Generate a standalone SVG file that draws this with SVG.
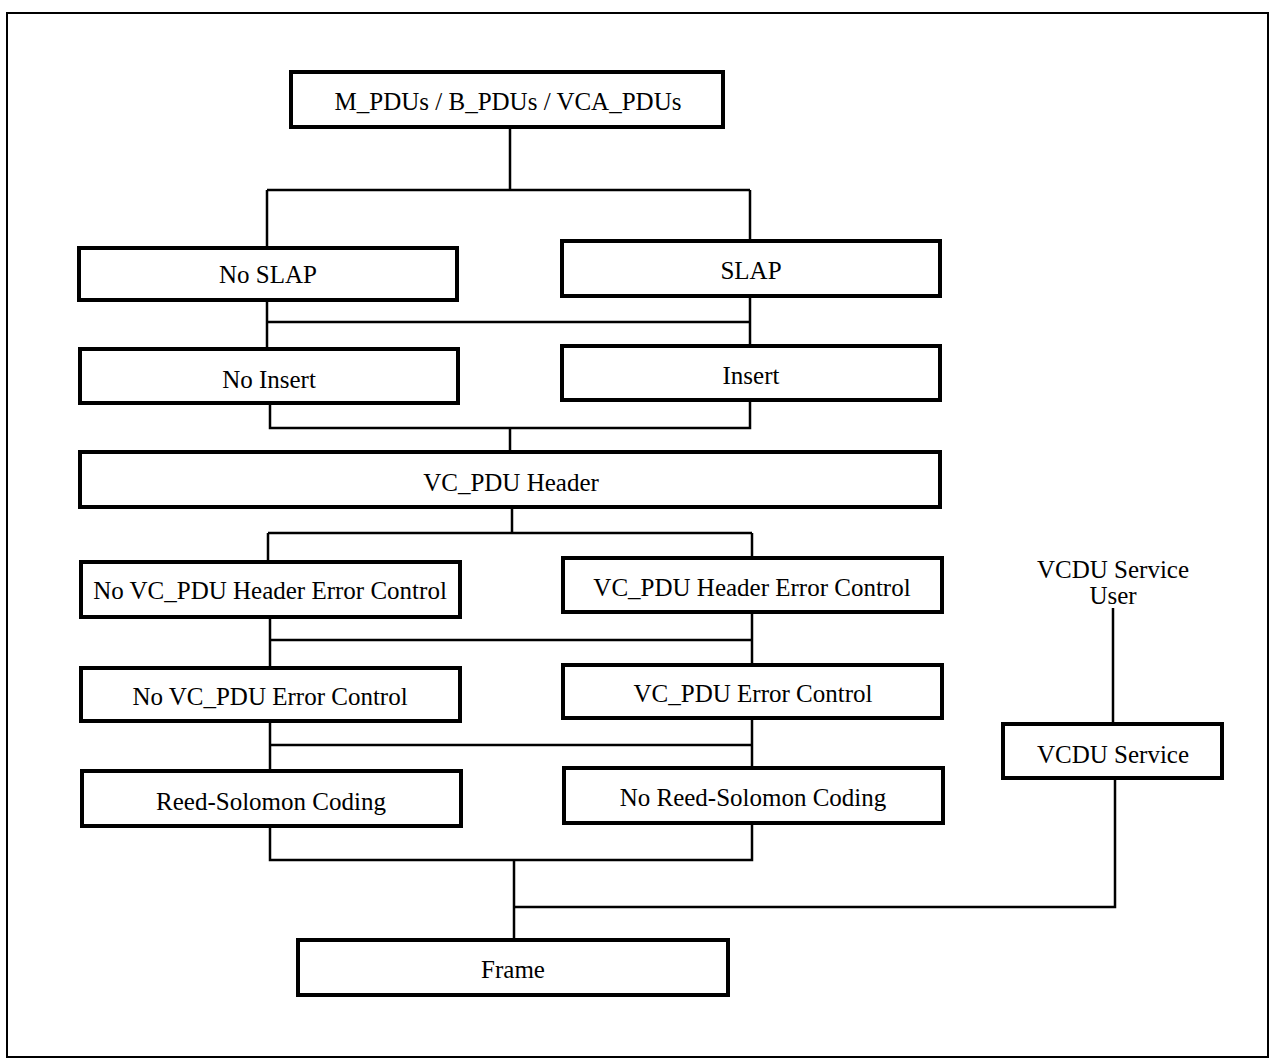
<svg xmlns="http://www.w3.org/2000/svg" width="1273" height="1060" viewBox="0 0 1273 1060">
<style>
.box{fill:#fff;stroke:#000;stroke-width:4}
.t{font-family:"Liberation Serif","Times New Roman",serif;font-size:25px;fill:#000;text-anchor:middle;dominant-baseline:central}
.c{fill:none;stroke:#000;stroke-width:2.5}
</style>
<rect x="0" y="0" width="1273" height="1060" fill="#fff"/>
<rect x="7" y="13" width="1261" height="1044" fill="none" stroke="#000" stroke-width="2"/>
<g id="connectors" class="c">
<path d="M510 127V190M267 190H750M267 190V248M750 190V241"/>
<path d="M267 300V349M267 322H750M750 296V346"/>
<path d="M270 403V428H750V400M510 428V452"/>
<path d="M512 507V533M268 533H752M268 533V562M752 533V558"/>
<path d="M270 617V668M270 640H752M752 612V665"/>
<path d="M270 721V771M270 745H752M752 718V768"/>
<path d="M270 826V860H752V823M514 860V940M514 907H1115V778"/>
<path d="M1113 724V608"/>
</g>
<g id="n_pdus"><rect class="box" x="291" y="72" width="432" height="55"/><text class="t" x="508" y="101">M_PDUs / B_PDUs / VCA_PDUs</text></g>
<g id="n_noslap"><rect class="box" x="79" y="248" width="378" height="52"/><text class="t" x="268" y="274">No SLAP</text></g>
<g id="n_slap"><rect class="box" x="562" y="241" width="378" height="55"/><text class="t" x="751" y="270">SLAP</text></g>
<g id="n_noinsert"><rect class="box" x="80" y="349" width="378" height="54"/><text class="t" x="269" y="379">No Insert</text></g>
<g id="n_insert"><rect class="box" x="562" y="346" width="378" height="54"/><text class="t" x="751" y="375">Insert</text></g>
<g id="n_header"><rect class="box" x="80" y="452" width="860" height="55"/><text class="t" x="511" y="482">VC_PDU Header</text></g>
<g id="n_nohec"><rect class="box" x="81" y="562" width="379" height="55"/><text class="t" x="270" y="590">No VC_PDU Header Error Control</text></g>
<g id="n_hec"><rect class="box" x="563" y="558" width="379" height="54"/><text class="t" x="752" y="587">VC_PDU Header Error Control</text></g>
<g id="n_noec"><rect class="box" x="81" y="668" width="379" height="53"/><text class="t" x="270" y="696">No VC_PDU Error Control</text></g>
<g id="n_ec"><rect class="box" x="563" y="665" width="379" height="53"/><text class="t" x="753" y="693">VC_PDU Error Control</text></g>
<g id="n_rs"><rect class="box" x="82" y="771" width="379" height="55"/><text class="t" x="271" y="801">Reed-Solomon Coding</text></g>
<g id="n_nors"><rect class="box" x="564" y="768" width="379" height="55"/><text class="t" x="753" y="797">No Reed-Solomon Coding</text></g>
<g id="n_frame"><rect class="box" x="298" y="940" width="430" height="55"/><text class="t" x="513" y="969">Frame</text></g>
<g id="n_vcdu"><rect class="box" x="1003" y="724" width="219" height="54"/><text class="t" x="1113" y="754">VCDU Service</text></g>
<g id="n_user"><text class="t" x="1113" y="569">VCDU Service</text><text class="t" x="1113" y="595">User</text></g>
</svg>
